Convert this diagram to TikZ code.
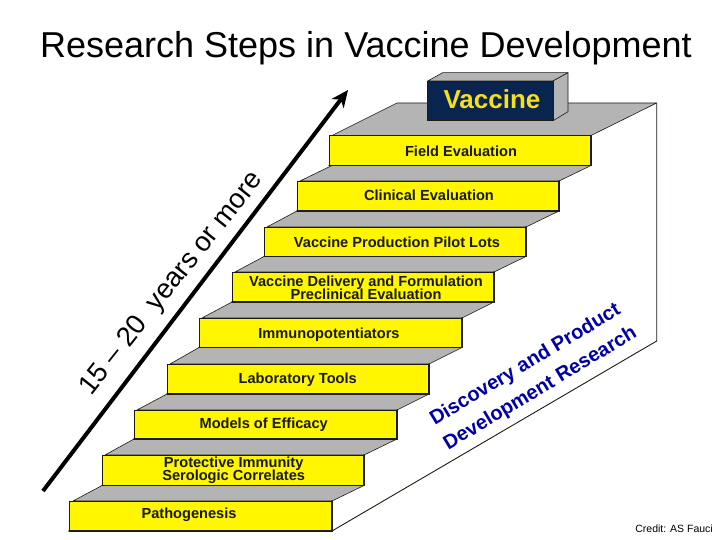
\documentclass[tikz,border=0pt]{standalone}
\usepackage{fontspec}
\setmainfont{Liberation Sans}
\usetikzlibrary{arrows.meta}
\definecolor{stepyellow}{HTML}{FFF600}
\definecolor{treadgrey}{HTML}{B4B4B4}
\definecolor{navyblock}{HTML}{0A2450}
\definecolor{blocktext}{HTML}{F4E01E}
\definecolor{darkblue}{HTML}{0000A8}
\definecolor{edge}{HTML}{1C1C10}
\tikzset{
  x=1pt,y=-1pt,
  tread/.style={fill=treadgrey,draw=edge,line width=0.6pt,line join=round},
  riser/.style={fill=stepyellow,draw=edge,line width=0.8pt},
  shade/.style={draw=edge,line width=1.5pt,line cap=round},
  steplabel/.style={font=\bfseries\fontsize{14.6}{13}\selectfont,text=black!90,align=center,inner sep=0pt},
  wall/.style={draw=edge,line width=0.9pt,line join=round},
}
\newcommand{\stepbar}[7]{%
  \fill[riser] (#1,#2) rectangle (#3,#4);
  \draw[shade] (#1,#4) -- (#3,#4) -- (#3,#2);
  \node[steplabel] (#5) at (#6) {#7};
}
\begin{document}
\begin{tikzpicture}
\fill[white] (0,0) rectangle (720,540);
\useasboundingbox (0,0) rectangle (720,540);
% side wall
\draw[wall] (656.7,103) -- (656.7,341) -- (332,531);
% treads
\path[tread] (397,103) -- (656.7,103) -- (591,135.5) -- (332,135.5) -- cycle;
\path[tread] (332,165.5) -- (591,165.5) -- (559,181) -- (300,181) -- cycle;
\path[tread] (297,211) -- (559,211) -- (526,227) -- (267,227) -- cycle;
\path[tread] (264,256.5) -- (526,256.5) -- (494,272) -- (235,272) -- cycle;
\path[tread] (232,302) -- (494,302) -- (462,318) -- (202,318) -- cycle;
\path[tread] (199,347.5) -- (462,347.5) -- (429,364) -- (170,364) -- cycle;
\path[tread] (167,394) -- (429,394) -- (397,410) -- (137,410) -- cycle;
\path[tread] (134,439) -- (397,439) -- (364,455) -- (105,455) -- cycle;
\path[tread] (102,485.5) -- (364,485.5) -- (332,501) -- (73,501) -- cycle;
% steps
\stepbar{69}{501}{332}{531}{s1}{189,514.5}{Pathogenesis}
\stepbar{102}{455}{364}{485.5}{s2}{233.7,470.5}{Protective Immunity\\[-2pt]Serologic Correlates}
\stepbar{134}{410}{397}{439}{s3}{263.7,425}{Models of Efficacy}
\stepbar{167}{364}{429}{394}{s4}{297.7,380}{Laboratory Tools}
\stepbar{199}{318}{462}{347.5}{s5}{329,334.5}{Immunopotentiators}
\stepbar{232}{272}{494}{302}{s6}{366,287.5}{Vaccine Delivery and Formulation\\[-2pt]Preclinical Evaluation}
\stepbar{264}{227}{526}{256.5}{s7}{397,242}{Vaccine Production Pilot Lots}
\stepbar{297}{181}{559}{211}{s8}{429,195}{Clinical Evaluation}
\stepbar{329}{135.5}{591}{165.5}{s9}{461,151}{Field Evaluation}
% vaccine block
\path[tread] (427.7,81) -- (442.7,72.7) -- (568,72.7) -- (553,81) -- cycle;
\path[tread] (553,81) -- (568,72.7) -- (568,111.7) -- (553,120.7) -- cycle;
\node[fill=navyblock,draw=edge,line width=0.6pt,minimum width=125.3pt,minimum height=39.7pt,inner sep=0pt] (vaccineblock) at (490.3,100.8) {};
\node[text=blocktext,font=\bfseries\fontsize{26}{26}\selectfont,inner sep=0pt] (vaccine) at (492,99) {Vaccine};
% title
\node[font=\fontsize{36}{38}\selectfont,text=black,inner sep=0pt] (title) at (366,48) {Research Steps in Vaccine Development};
% arrow
\coordinate (arrowstart) at (43,491);
\coordinate (arrowend) at (348,90);
\draw[line width=4pt,black,-{Stealth[length=17pt,width=15pt,inset=5pt]}] (arrowstart) -- (arrowend);
% rotated labels
\node[rotate=51.5,font=\fontsize{27.5}{28}\selectfont,inner sep=0pt] (years) at (172,284) {15 -- 20\ \ years or more};
\node[rotate=31,font=\bfseries\fontsize{20}{20}\selectfont,text=darkblue,inner sep=0pt] (disc) at (525.5,365) {Discovery and Product};
\node[rotate=31,font=\bfseries\fontsize{20}{20}\selectfont,text=darkblue,inner sep=0pt] (dev) at (540.5,389) {Development Research};
% credit
\node[font=\fontsize{10.5}{11}\selectfont,inner sep=0pt,anchor=east] (credit) at (713,529) {Credit: AS Fauci};
\end{tikzpicture}
\end{document}
